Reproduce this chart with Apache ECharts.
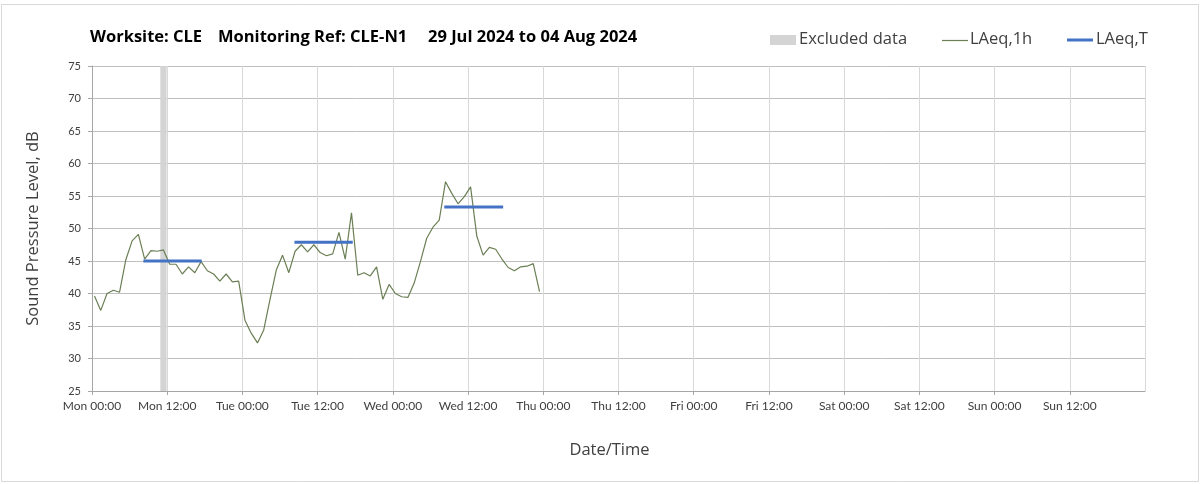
<!DOCTYPE html>
<html>
<head>
<meta charset="utf-8">
<script src="https://cdn.jsdelivr.net/npm/echarts@6/dist/echarts.min.js"></script>
<style>
  html, body { margin: 0; padding: 0; background: #fff; }
  #chart { width: 1203px; height: 484px; }
</style>
</head>
<body>
<div id="chart"></div>
<script>
// hourly LAeq,1h levels from Mon 00:00 (one per hour)
var levels = [
  39.6, 37.4, 40.0, 40.5, 40.2, 45.2, 48.1, 49.1, 45.3, 46.6, 46.5, 46.7,
  44.5, 44.5, 43.0, 44.1, 43.2, 44.9, 43.5, 43.0, 41.9, 43.0, 41.8, 41.9,
  35.9, 33.9, 32.4, 34.4, 39.1, 43.6, 45.9, 43.2, 46.5, 47.5, 46.4, 47.5,
  46.3, 45.8, 46.1, 49.4, 45.3, 52.4, 42.8, 43.2, 42.7, 44.1, 39.1, 41.4,
  40.0, 39.5, 39.4, 41.6, 44.9, 48.5, 50.2, 51.3, 57.2, 55.4, 53.8, 54.9,
  56.4, 48.8, 45.9, 47.1, 46.8, 45.3, 44.0, 43.5, 44.1, 44.2, 44.6, 40.3
];
// LAeq,T periods (hours from Mon 00:00) and levels
var periodStart = [8.2, 32.3, 56.2];
var periodEnd = [17.5, 41.6, 65.6];
var periodLevel = [45.0, 47.9, 53.3];
// excluded data window (hours)
var excluded = [10.9, 11.9];
var dayNames = ['Mon', 'Tue', 'Wed', 'Thu', 'Fri', 'Sat', 'Sun'];

var hourly = levels.map(function (v, i) { return [i + 0.4, v]; });
var laeqT = [];
periodLevel.forEach(function (v, i) {
  laeqT.push([periodStart[i], v], [periodEnd[i], v], [periodEnd[i], '-']);
});

var chart = echarts.init(document.getElementById('chart'));
var font = 'Lato, "Open Sans", sans-serif';
var wide = '"Open Sans", sans-serif';
var txt = '#404040';
var olive = '#6b7f55';

var option = {
  animation: false,
  textStyle: { fontFamily: font },
  grid: { left: 92, right: 58, top: 66, bottom: 93 },
  xAxis: {
    type: 'value', min: 0, max: 168, interval: 12,
    name: 'Date/Time', nameLocation: 'middle', nameGap: 51,
    nameTextStyle: { fontSize: 16.5, color: txt, fontFamily: wide, padding: [0, 18, 0, 0] },
    axisLine: { show: true, lineStyle: { color: '#a6a6a6' } },
    axisTick: { show: true, length: 4, lineStyle: { color: '#a6a6a6' } },
    axisLabel: {
      fontSize: 12, color: txt, margin: 9, showMaxLabel: false,
      formatter: function (v) {
        if (v >= 168) return '';
        return dayNames[Math.floor(v / 24)] + ' ' + (v % 24 === 0 ? '00:00' : '12:00');
      }
    },
    splitLine: { show: true, lineStyle: { color: '#d9d9d9' } }
  },
  yAxis: {
    type: 'value', min: 25, max: 75, interval: 5,
    name: 'Sound Pressure Level, dB', nameLocation: 'middle', nameGap: 50, nameRotate: 90,
    nameTextStyle: { fontSize: 16.5, color: txt, fontFamily: wide },
    axisLine: { show: true, lineStyle: { color: '#a6a6a6' } },
    axisTick: { show: true, length: 4, lineStyle: { color: '#a6a6a6' } },
    axisLabel: { fontSize: 11, color: txt, margin: 11 },
    splitLine: { show: true, lineStyle: { color: '#bfbfbf' } }
  },
  series: [
    {
      name: 'LAeq,1h', type: 'line', data: hourly, symbol: 'none',
      lineStyle: { color: olive, width: 1.2 },
      markArea: {
        silent: true,
        itemStyle: { color: '#d4d4d4', opacity: 1 },
        data: [[{ xAxis: excluded[0] }, { xAxis: excluded[1] }]]
      },
      z: 3
    },
    {
      name: 'LAeq,T', type: 'line', data: laeqT, symbol: 'none', connectNulls: false,
      lineStyle: { color: '#4472c4', width: 3 },
      z: 4
    }
  ],
  graphic: [
    { type: 'rect', silent: true, shape: { x: 1.5, y: 4.5, width: 1197, height: 477 },
      style: { fill: null, stroke: '#d9d9d9', lineWidth: 1 } },
    { type: 'text', left: 90, top: 29, style: { text: 'Worksite: CLE', font: 'bold 16.5px ' + wide, fill: '#000' } },
    { type: 'text', left: 218, top: 29, style: { text: 'Monitoring Ref: CLE-N1', font: 'bold 16.5px ' + wide, fill: '#000' } },
    { type: 'text', left: 428, top: 29, style: { text: '29 Jul 2024 to 04 Aug 2024', font: 'bold 16.5px ' + wide, fill: '#000' } },
    // legend
    { type: 'rect', shape: { x: 770, y: 35, width: 26, height: 10 }, style: { fill: '#d4d4d4' } },
    { type: 'text', left: 799, top: 31, style: { text: 'Excluded data', font: '16.5px ' + wide, fill: txt } },
    { type: 'line', shape: { x1: 942, y1: 40.5, x2: 968, y2: 40.5 }, style: { stroke: olive, lineWidth: 1.2 } },
    { type: 'text', left: 970, top: 31, style: { text: 'LAeq,1h', font: '16.5px ' + wide, fill: txt } },
    { type: 'line', shape: { x1: 1067, y1: 40, x2: 1093, y2: 40 }, style: { stroke: '#4472c4', lineWidth: 3 } },
    { type: 'text', left: 1096, top: 31, style: { text: 'LAeq,T', font: '16.5px ' + wide, fill: txt } }
  ]
};

window.onresize = chart.resize;
chart.setOption(option);
</script>
</body>
</html>
